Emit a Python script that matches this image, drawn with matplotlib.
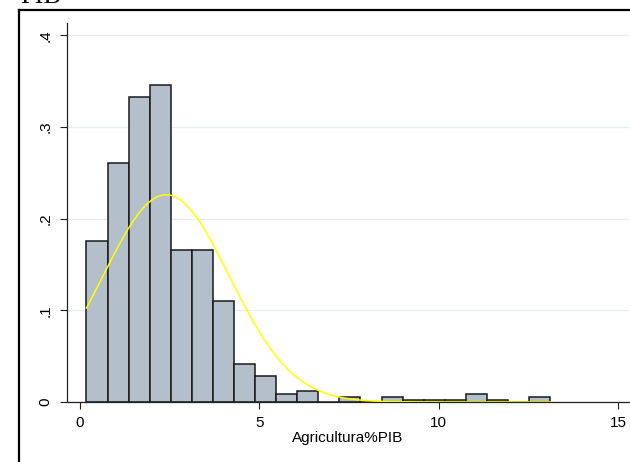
import numpy as np
import matplotlib
matplotlib.use("Agg")
import matplotlib.pyplot as plt
from matplotlib.lines import Line2D

# histogram of Agricultura%PIB (density scale), bins
bin_start = 0.19
bin_width = 0.587
density = [0.176, 0.261, 0.333, 0.346, 0.166, 0.166, 0.1106, 0.0415,
           0.0288, 0.0087, 0.0117, 0.0, 0.0055, 0.0, 0.0055, 0.0022,
           0.0022, 0.0022, 0.0087, 0.0022, 0.0, 0.0055]

# fitted normal curve
norm_mean = 2.41
norm_sd = 1.765

xticks = [0, 5, 10, 15]
yticks = [0, 0.1, 0.2, 0.3, 0.4]
ytick_labels = ["0", ".1", ".2", ".3", ".4"]

plt.rcParams['font.family'] = ['Liberation Sans', 'DejaVu Sans']

W, H = 630, 462
fig = plt.figure(figsize=(W / 100, H / 100), dpi=100)
ax = fig.add_axes([66.7 / W, 1 - 402 / H, (629 - 66.7) / W, (402 - 23) / H])

n = len(density)
lefts = bin_start + bin_width * np.arange(n)
ax.bar(lefts, density, width=bin_width, align='edge', color='#b3bfcb',
       edgecolor='#1a1a1a', linewidth=1.1, zorder=2)

xs = np.linspace(bin_start, bin_start + bin_width * n, 400)
ys = np.exp(-0.5 * ((xs - norm_mean) / norm_sd) ** 2) / (norm_sd * np.sqrt(2 * np.pi))
ax.plot(xs, ys, color='#ffff00', linewidth=1.1, zorder=3)

ax.set_xlim(-0.36, 15.3)
ax.set_ylim(0, 0.4134)
ax.set_xticks(xticks)
ax.set_yticks(yticks)
ax.set_yticklabels(ytick_labels, rotation=90, va='center')
ax.tick_params(axis='both', direction='out', length=5, width=0.8,
               labelsize=11, color='#222222')
ax.tick_params(axis='y', pad=5)
ax.tick_params(axis='x', pad=5)
ax.set_xlabel('Agricultura%PIB', fontsize=11, labelpad=1)

ax.grid(axis='y', color='#e6eeef', linewidth=1.0, zorder=0)
ax.set_axisbelow(True)
for s in ['top', 'right']:
    ax.spines[s].set_visible(False)
for s in ['left', 'bottom']:
    ax.spines[s].set_linewidth(0.9)
    ax.spines[s].set_color('#222222')

# outer frame of the (cropped) graph region
fig.add_artist(Line2D([19 / W, 19 / W], [0, 1 - 9.5 / H], transform=fig.transFigure,
                      color='black', linewidth=1.6))
fig.add_artist(Line2D([19 / W, 1.0], [1 - 9.5 / H, 1 - 9.5 / H], transform=fig.transFigure,
                      color='black', linewidth=1.6))

# title sits partly above the crop, as in the reference
fig.text(20 / W, 1 - 3 / H, 'PIB', fontsize=19, family='Liberation Serif',
         ha='left', va='baseline')

fig.savefig('out.png', dpi=100)
